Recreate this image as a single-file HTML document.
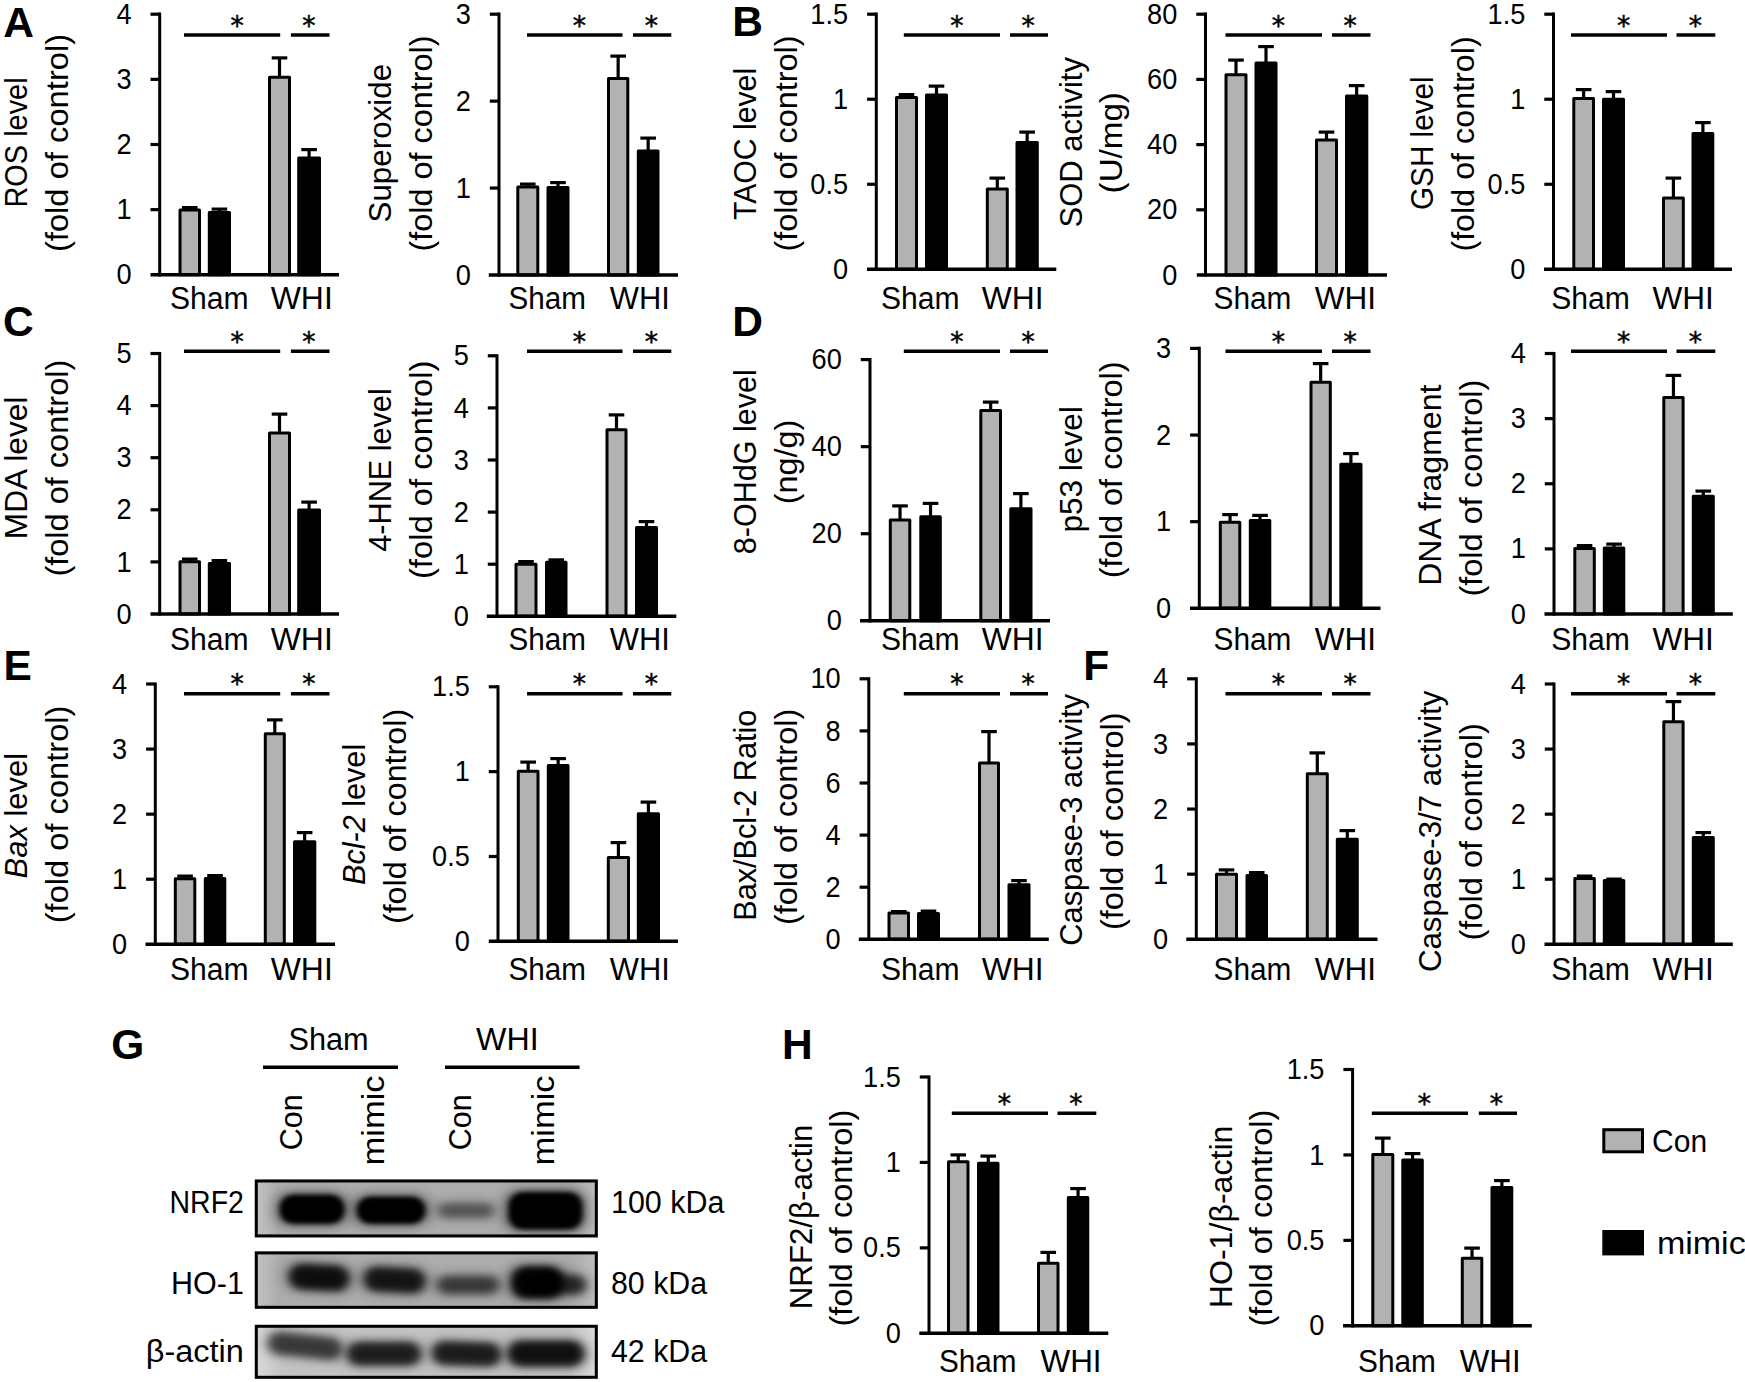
<!DOCTYPE html>
<html lang="en"><head><meta charset="utf-8"><title>Figure</title>
<style>
html,body{margin:0;padding:0;background:#fff;}
svg{display:block;}
svg text{font-family:"Liberation Sans",sans-serif;fill:#000;}
svg line{stroke:#000;stroke-linecap:butt;}
</style></head><body>
<svg width="1745" height="1382" viewBox="0 0 1745 1382">
<rect x="0" y="0" width="1745" height="1382" fill="#fff"/>
<line x1="189.75" y1="207.6" x2="189.75" y2="210.5" stroke-width="3.2"/>
<line x1="181.95" y1="207.6" x2="197.55" y2="207.6" stroke-width="3.2"/>
<rect x="180" y="210" width="19.5" height="64.8" fill="#b2b2b2" stroke="#000" stroke-width="3" stroke-linejoin="round"/>
<line x1="219.4" y1="209.1" x2="219.4" y2="213" stroke-width="3.2"/>
<line x1="211.6" y1="209.1" x2="227.2" y2="209.1" stroke-width="3.2"/>
<rect x="209.3" y="212.5" width="20.2" height="62.3" fill="#000" stroke="#000" stroke-width="3" stroke-linejoin="round"/>
<line x1="279.5" y1="57.9" x2="279.5" y2="77.8" stroke-width="3.2"/>
<line x1="271.7" y1="57.9" x2="287.3" y2="57.9" stroke-width="3.2"/>
<rect x="269.5" y="77.3" width="20" height="197.5" fill="#b2b2b2" stroke="#000" stroke-width="3" stroke-linejoin="round"/>
<line x1="309.1" y1="149.6" x2="309.1" y2="158.5" stroke-width="3.2"/>
<line x1="301.3" y1="149.6" x2="316.9" y2="149.6" stroke-width="3.2"/>
<rect x="298.7" y="158" width="20.8" height="116.8" fill="#000" stroke="#000" stroke-width="3" stroke-linejoin="round"/>
<line x1="159.7" y1="12.6" x2="159.7" y2="276.4" stroke-width="3"/>
<line x1="150.5" y1="274.8" x2="339" y2="274.8" stroke-width="3.4"/>
<text x="131.5" y="284.4" font-size="29" text-anchor="end" textLength="15.11" lengthAdjust="spacingAndGlyphs">0</text>
<line x1="150.5" y1="209.65" x2="159.7" y2="209.65" stroke-width="3.2"/>
<text x="131.5" y="219.25" font-size="29" text-anchor="end" textLength="15.11" lengthAdjust="spacingAndGlyphs">1</text>
<line x1="150.5" y1="144.5" x2="159.7" y2="144.5" stroke-width="3.2"/>
<text x="131.5" y="154.1" font-size="29" text-anchor="end" textLength="15.11" lengthAdjust="spacingAndGlyphs">2</text>
<line x1="150.5" y1="79.35" x2="159.7" y2="79.35" stroke-width="3.2"/>
<text x="131.5" y="88.95" font-size="29" text-anchor="end" textLength="15.11" lengthAdjust="spacingAndGlyphs">3</text>
<line x1="150.5" y1="14.2" x2="159.7" y2="14.2" stroke-width="3.2"/>
<text x="131.5" y="23.8" font-size="29" text-anchor="end" textLength="15.11" lengthAdjust="spacingAndGlyphs">4</text>
<line x1="184" y1="35" x2="280.2" y2="35" stroke-width="3.4"/>
<line x1="290.9" y1="35" x2="329.5" y2="35" stroke-width="3.4"/>
<text x="237.2" y="34.8" font-size="26.5" text-anchor="middle" stroke="#000" stroke-width="0.5" style="font-family:'DejaVu Sans','Liberation Sans',sans-serif">*</text>
<text x="308.8" y="34.8" font-size="26.5" text-anchor="middle" stroke="#000" stroke-width="0.5" style="font-family:'DejaVu Sans','Liberation Sans',sans-serif">*</text>
<text x="170" y="309.3" font-size="31" textLength="78.7" lengthAdjust="spacingAndGlyphs">Sham</text>
<text x="270.7" y="309.3" font-size="31" textLength="62.1" lengthAdjust="spacingAndGlyphs">WHI</text>
<text transform="translate(26.6 207.5) rotate(-90)" font-size="31" textLength="130.1" lengthAdjust="spacingAndGlyphs">ROS level</text>
<text transform="translate(67.9 252.1) rotate(-90)" font-size="31" textLength="218.3" lengthAdjust="spacingAndGlyphs">(fold of control)</text>
<line x1="527.8" y1="184.1" x2="527.8" y2="187.5" stroke-width="3.2"/>
<line x1="520" y1="184.1" x2="535.6" y2="184.1" stroke-width="3.2"/>
<rect x="517.8" y="187" width="20" height="88" fill="#b2b2b2" stroke="#000" stroke-width="3" stroke-linejoin="round"/>
<line x1="558" y1="182.6" x2="558" y2="188" stroke-width="3.2"/>
<line x1="550.2" y1="182.6" x2="565.8" y2="182.6" stroke-width="3.2"/>
<rect x="548" y="187.5" width="20" height="87.5" fill="#000" stroke="#000" stroke-width="3" stroke-linejoin="round"/>
<line x1="618.15" y1="56.1" x2="618.15" y2="79" stroke-width="3.2"/>
<line x1="610.35" y1="56.1" x2="625.95" y2="56.1" stroke-width="3.2"/>
<rect x="608.5" y="78.5" width="19.3" height="196.5" fill="#b2b2b2" stroke="#000" stroke-width="3" stroke-linejoin="round"/>
<line x1="648.15" y1="138.1" x2="648.15" y2="151.5" stroke-width="3.2"/>
<line x1="640.35" y1="138.1" x2="655.95" y2="138.1" stroke-width="3.2"/>
<rect x="638.3" y="151" width="19.7" height="124" fill="#000" stroke="#000" stroke-width="3" stroke-linejoin="round"/>
<line x1="499" y1="12.6" x2="499" y2="276.6" stroke-width="3"/>
<line x1="488.8" y1="275" x2="678" y2="275" stroke-width="3.4"/>
<text x="470.8" y="284.6" font-size="29" text-anchor="end" textLength="15.11" lengthAdjust="spacingAndGlyphs">0</text>
<line x1="489.8" y1="188.07" x2="499" y2="188.07" stroke-width="3.2"/>
<text x="470.8" y="197.67" font-size="29" text-anchor="end" textLength="15.11" lengthAdjust="spacingAndGlyphs">1</text>
<line x1="489.8" y1="101.13" x2="499" y2="101.13" stroke-width="3.2"/>
<text x="470.8" y="110.73" font-size="29" text-anchor="end" textLength="15.11" lengthAdjust="spacingAndGlyphs">2</text>
<line x1="489.8" y1="14.2" x2="499" y2="14.2" stroke-width="3.2"/>
<text x="470.8" y="23.8" font-size="29" text-anchor="end" textLength="15.11" lengthAdjust="spacingAndGlyphs">3</text>
<line x1="527" y1="35" x2="622.5" y2="35" stroke-width="3.4"/>
<line x1="633" y1="35" x2="671.3" y2="35" stroke-width="3.4"/>
<text x="579.3" y="34.8" font-size="26.5" text-anchor="middle" stroke="#000" stroke-width="0.5" style="font-family:'DejaVu Sans','Liberation Sans',sans-serif">*</text>
<text x="651.3" y="34.8" font-size="26.5" text-anchor="middle" stroke="#000" stroke-width="0.5" style="font-family:'DejaVu Sans','Liberation Sans',sans-serif">*</text>
<text x="508.5" y="309.3" font-size="31" textLength="77.4" lengthAdjust="spacingAndGlyphs">Sham</text>
<text x="609.8" y="309.3" font-size="31" textLength="60.1" lengthAdjust="spacingAndGlyphs">WHI</text>
<text transform="translate(391.3 222.5) rotate(-90)" font-size="31" textLength="158.7" lengthAdjust="spacingAndGlyphs">Superoxide</text>
<text transform="translate(432 251.6) rotate(-90)" font-size="31" textLength="216.1" lengthAdjust="spacingAndGlyphs">(fold of control)</text>
<line x1="906.5" y1="94.6" x2="906.5" y2="98" stroke-width="3.2"/>
<line x1="898.7" y1="94.6" x2="914.3" y2="94.6" stroke-width="3.2"/>
<rect x="896.5" y="97.5" width="20" height="171.8" fill="#b2b2b2" stroke="#000" stroke-width="3" stroke-linejoin="round"/>
<line x1="936.5" y1="86.1" x2="936.5" y2="95.5" stroke-width="3.2"/>
<line x1="928.7" y1="86.1" x2="944.3" y2="86.1" stroke-width="3.2"/>
<rect x="926.5" y="95" width="20" height="174.3" fill="#000" stroke="#000" stroke-width="3" stroke-linejoin="round"/>
<line x1="997.3" y1="178.1" x2="997.3" y2="189.5" stroke-width="3.2"/>
<line x1="989.5" y1="178.1" x2="1005.1" y2="178.1" stroke-width="3.2"/>
<rect x="987.3" y="189" width="20" height="80.3" fill="#b2b2b2" stroke="#000" stroke-width="3" stroke-linejoin="round"/>
<line x1="1027.15" y1="132.1" x2="1027.15" y2="143" stroke-width="3.2"/>
<line x1="1019.35" y1="132.1" x2="1034.95" y2="132.1" stroke-width="3.2"/>
<rect x="1017" y="142.5" width="20.3" height="126.8" fill="#000" stroke="#000" stroke-width="3" stroke-linejoin="round"/>
<line x1="876.3" y1="12.6" x2="876.3" y2="270.9" stroke-width="3"/>
<line x1="867" y1="269.3" x2="1056.3" y2="269.3" stroke-width="3.4"/>
<text x="848.1" y="278.9" font-size="29" text-anchor="end" textLength="15.11" lengthAdjust="spacingAndGlyphs">0</text>
<line x1="867.1" y1="184.27" x2="876.3" y2="184.27" stroke-width="3.2"/>
<text x="848.1" y="193.87" font-size="29" text-anchor="end" textLength="37.73" lengthAdjust="spacingAndGlyphs">0.5</text>
<line x1="867.1" y1="99.23" x2="876.3" y2="99.23" stroke-width="3.2"/>
<text x="848.1" y="108.83" font-size="29" text-anchor="end" textLength="15.11" lengthAdjust="spacingAndGlyphs">1</text>
<line x1="867.1" y1="14.2" x2="876.3" y2="14.2" stroke-width="3.2"/>
<text x="848.1" y="23.8" font-size="29" text-anchor="end" textLength="37.73" lengthAdjust="spacingAndGlyphs">1.5</text>
<line x1="903.8" y1="35" x2="1000" y2="35" stroke-width="3.4"/>
<line x1="1010" y1="35" x2="1048" y2="35" stroke-width="3.4"/>
<text x="956.8" y="34.8" font-size="26.5" text-anchor="middle" stroke="#000" stroke-width="0.5" style="font-family:'DejaVu Sans','Liberation Sans',sans-serif">*</text>
<text x="1028" y="34.8" font-size="26.5" text-anchor="middle" stroke="#000" stroke-width="0.5" style="font-family:'DejaVu Sans','Liberation Sans',sans-serif">*</text>
<text x="881" y="309.3" font-size="31" textLength="78.6" lengthAdjust="spacingAndGlyphs">Sham</text>
<text x="981.8" y="309.3" font-size="31" textLength="61.8" lengthAdjust="spacingAndGlyphs">WHI</text>
<text transform="translate(755.8 220) rotate(-90)" font-size="31" textLength="152.1" lengthAdjust="spacingAndGlyphs">TAOC level</text>
<text transform="translate(796.9 251.6) rotate(-90)" font-size="31" textLength="216.1" lengthAdjust="spacingAndGlyphs">(fold of control)</text>
<line x1="1236" y1="60.1" x2="1236" y2="75.3" stroke-width="3.2"/>
<line x1="1228.2" y1="60.1" x2="1243.8" y2="60.1" stroke-width="3.2"/>
<rect x="1226" y="74.8" width="20" height="200.2" fill="#b2b2b2" stroke="#000" stroke-width="3" stroke-linejoin="round"/>
<line x1="1266" y1="46.6" x2="1266" y2="63.5" stroke-width="3.2"/>
<line x1="1258.2" y1="46.6" x2="1273.8" y2="46.6" stroke-width="3.2"/>
<rect x="1256" y="63" width="20" height="212" fill="#000" stroke="#000" stroke-width="3" stroke-linejoin="round"/>
<line x1="1326.5" y1="132.1" x2="1326.5" y2="140.5" stroke-width="3.2"/>
<line x1="1318.7" y1="132.1" x2="1334.3" y2="132.1" stroke-width="3.2"/>
<rect x="1316.5" y="140" width="20" height="135" fill="#b2b2b2" stroke="#000" stroke-width="3" stroke-linejoin="round"/>
<line x1="1356.65" y1="85.6" x2="1356.65" y2="96.5" stroke-width="3.2"/>
<line x1="1348.85" y1="85.6" x2="1364.45" y2="85.6" stroke-width="3.2"/>
<rect x="1346.5" y="96" width="20.3" height="179" fill="#000" stroke="#000" stroke-width="3" stroke-linejoin="round"/>
<line x1="1205.5" y1="12.6" x2="1205.5" y2="276.6" stroke-width="3"/>
<line x1="1196.8" y1="275" x2="1387" y2="275" stroke-width="3.4"/>
<text x="1177.3" y="284.6" font-size="29" text-anchor="end" textLength="15.11" lengthAdjust="spacingAndGlyphs">0</text>
<line x1="1196.3" y1="209.8" x2="1205.5" y2="209.8" stroke-width="3.2"/>
<text x="1177.3" y="219.4" font-size="29" text-anchor="end" textLength="30.22" lengthAdjust="spacingAndGlyphs">20</text>
<line x1="1196.3" y1="144.6" x2="1205.5" y2="144.6" stroke-width="3.2"/>
<text x="1177.3" y="154.2" font-size="29" text-anchor="end" textLength="30.22" lengthAdjust="spacingAndGlyphs">40</text>
<line x1="1196.3" y1="79.4" x2="1205.5" y2="79.4" stroke-width="3.2"/>
<text x="1177.3" y="89" font-size="29" text-anchor="end" textLength="30.22" lengthAdjust="spacingAndGlyphs">60</text>
<line x1="1196.3" y1="14.2" x2="1205.5" y2="14.2" stroke-width="3.2"/>
<text x="1177.3" y="23.8" font-size="29" text-anchor="end" textLength="30.22" lengthAdjust="spacingAndGlyphs">80</text>
<line x1="1225.5" y1="35" x2="1322" y2="35" stroke-width="3.4"/>
<line x1="1332" y1="35" x2="1370.5" y2="35" stroke-width="3.4"/>
<text x="1278.3" y="34.8" font-size="26.5" text-anchor="middle" stroke="#000" stroke-width="0.5" style="font-family:'DejaVu Sans','Liberation Sans',sans-serif">*</text>
<text x="1350" y="34.8" font-size="26.5" text-anchor="middle" stroke="#000" stroke-width="0.5" style="font-family:'DejaVu Sans','Liberation Sans',sans-serif">*</text>
<text x="1213.5" y="309.3" font-size="31" textLength="77.9" lengthAdjust="spacingAndGlyphs">Sham</text>
<text x="1314.8" y="309.3" font-size="31" textLength="61.3" lengthAdjust="spacingAndGlyphs">WHI</text>
<text transform="translate(1081.6 227.5) rotate(-90)" font-size="31" textLength="170.4" lengthAdjust="spacingAndGlyphs">SOD activity</text>
<text transform="translate(1121.9 193.4) rotate(-90)" font-size="31" textLength="101.3" lengthAdjust="spacingAndGlyphs">(U/mg)</text>
<line x1="1583.65" y1="89.6" x2="1583.65" y2="99" stroke-width="3.2"/>
<line x1="1575.85" y1="89.6" x2="1591.45" y2="89.6" stroke-width="3.2"/>
<rect x="1573.8" y="98.5" width="19.7" height="170.8" fill="#b2b2b2" stroke="#000" stroke-width="3" stroke-linejoin="round"/>
<line x1="1613.5" y1="91.6" x2="1613.5" y2="99.8" stroke-width="3.2"/>
<line x1="1605.7" y1="91.6" x2="1621.3" y2="91.6" stroke-width="3.2"/>
<rect x="1603.5" y="99.3" width="20" height="170" fill="#000" stroke="#000" stroke-width="3" stroke-linejoin="round"/>
<line x1="1673.4" y1="178.1" x2="1673.4" y2="198.5" stroke-width="3.2"/>
<line x1="1665.6" y1="178.1" x2="1681.2" y2="178.1" stroke-width="3.2"/>
<rect x="1663.5" y="198" width="19.8" height="71.3" fill="#b2b2b2" stroke="#000" stroke-width="3" stroke-linejoin="round"/>
<line x1="1702.9" y1="122.6" x2="1702.9" y2="134" stroke-width="3.2"/>
<line x1="1695.1" y1="122.6" x2="1710.7" y2="122.6" stroke-width="3.2"/>
<rect x="1693" y="133.5" width="19.8" height="135.8" fill="#000" stroke="#000" stroke-width="3" stroke-linejoin="round"/>
<line x1="1553.5" y1="12.6" x2="1553.5" y2="270.9" stroke-width="3"/>
<line x1="1544" y1="269.3" x2="1732" y2="269.3" stroke-width="3.4"/>
<text x="1525.3" y="278.9" font-size="29" text-anchor="end" textLength="15.11" lengthAdjust="spacingAndGlyphs">0</text>
<line x1="1544.3" y1="184.27" x2="1553.5" y2="184.27" stroke-width="3.2"/>
<text x="1525.3" y="193.87" font-size="29" text-anchor="end" textLength="37.73" lengthAdjust="spacingAndGlyphs">0.5</text>
<line x1="1544.3" y1="99.23" x2="1553.5" y2="99.23" stroke-width="3.2"/>
<text x="1525.3" y="108.83" font-size="29" text-anchor="end" textLength="15.11" lengthAdjust="spacingAndGlyphs">1</text>
<line x1="1544.3" y1="14.2" x2="1553.5" y2="14.2" stroke-width="3.2"/>
<text x="1525.3" y="23.8" font-size="29" text-anchor="end" textLength="37.73" lengthAdjust="spacingAndGlyphs">1.5</text>
<line x1="1571" y1="35" x2="1667" y2="35" stroke-width="3.4"/>
<line x1="1676.5" y1="35" x2="1715.3" y2="35" stroke-width="3.4"/>
<text x="1623.5" y="34.8" font-size="26.5" text-anchor="middle" stroke="#000" stroke-width="0.5" style="font-family:'DejaVu Sans','Liberation Sans',sans-serif">*</text>
<text x="1695.3" y="34.8" font-size="26.5" text-anchor="middle" stroke="#000" stroke-width="0.5" style="font-family:'DejaVu Sans','Liberation Sans',sans-serif">*</text>
<text x="1551.3" y="309.3" font-size="31" textLength="78.6" lengthAdjust="spacingAndGlyphs">Sham</text>
<text x="1652.5" y="309.3" font-size="31" textLength="61.4" lengthAdjust="spacingAndGlyphs">WHI</text>
<text transform="translate(1433.3 210) rotate(-90)" font-size="31" textLength="133.7" lengthAdjust="spacingAndGlyphs">GSH level</text>
<text transform="translate(1474 251.6) rotate(-90)" font-size="31" textLength="215.3" lengthAdjust="spacingAndGlyphs">(fold of control)</text>
<line x1="189.75" y1="559.1" x2="189.75" y2="562.3" stroke-width="3.2"/>
<line x1="181.95" y1="559.1" x2="197.55" y2="559.1" stroke-width="3.2"/>
<rect x="180" y="561.8" width="19.5" height="52.2" fill="#b2b2b2" stroke="#000" stroke-width="3" stroke-linejoin="round"/>
<line x1="219.4" y1="560.6" x2="219.4" y2="564" stroke-width="3.2"/>
<line x1="211.6" y1="560.6" x2="227.2" y2="560.6" stroke-width="3.2"/>
<rect x="209.3" y="563.5" width="20.2" height="50.5" fill="#000" stroke="#000" stroke-width="3" stroke-linejoin="round"/>
<line x1="279.5" y1="414.1" x2="279.5" y2="433.5" stroke-width="3.2"/>
<line x1="271.7" y1="414.1" x2="287.3" y2="414.1" stroke-width="3.2"/>
<rect x="269.5" y="433" width="20" height="181" fill="#b2b2b2" stroke="#000" stroke-width="3" stroke-linejoin="round"/>
<line x1="309.1" y1="502.1" x2="309.1" y2="510.5" stroke-width="3.2"/>
<line x1="301.3" y1="502.1" x2="316.9" y2="502.1" stroke-width="3.2"/>
<rect x="298.7" y="510" width="20.8" height="104" fill="#000" stroke="#000" stroke-width="3" stroke-linejoin="round"/>
<line x1="159.7" y1="351.9" x2="159.7" y2="615.6" stroke-width="3"/>
<line x1="150.5" y1="614" x2="339" y2="614" stroke-width="3.4"/>
<text x="131.5" y="623.6" font-size="29" text-anchor="end" textLength="15.11" lengthAdjust="spacingAndGlyphs">0</text>
<line x1="150.5" y1="561.9" x2="159.7" y2="561.9" stroke-width="3.2"/>
<text x="131.5" y="571.5" font-size="29" text-anchor="end" textLength="15.11" lengthAdjust="spacingAndGlyphs">1</text>
<line x1="150.5" y1="509.8" x2="159.7" y2="509.8" stroke-width="3.2"/>
<text x="131.5" y="519.4" font-size="29" text-anchor="end" textLength="15.11" lengthAdjust="spacingAndGlyphs">2</text>
<line x1="150.5" y1="457.7" x2="159.7" y2="457.7" stroke-width="3.2"/>
<text x="131.5" y="467.3" font-size="29" text-anchor="end" textLength="15.11" lengthAdjust="spacingAndGlyphs">3</text>
<line x1="150.5" y1="405.6" x2="159.7" y2="405.6" stroke-width="3.2"/>
<text x="131.5" y="415.2" font-size="29" text-anchor="end" textLength="15.11" lengthAdjust="spacingAndGlyphs">4</text>
<line x1="150.5" y1="353.5" x2="159.7" y2="353.5" stroke-width="3.2"/>
<text x="131.5" y="363.1" font-size="29" text-anchor="end" textLength="15.11" lengthAdjust="spacingAndGlyphs">5</text>
<line x1="184" y1="351.2" x2="280.2" y2="351.2" stroke-width="3.4"/>
<line x1="290.9" y1="351.2" x2="329.5" y2="351.2" stroke-width="3.4"/>
<text x="237.2" y="350.8" font-size="26.5" text-anchor="middle" stroke="#000" stroke-width="0.5" style="font-family:'DejaVu Sans','Liberation Sans',sans-serif">*</text>
<text x="308.8" y="350.8" font-size="26.5" text-anchor="middle" stroke="#000" stroke-width="0.5" style="font-family:'DejaVu Sans','Liberation Sans',sans-serif">*</text>
<text x="170" y="650" font-size="31" textLength="78.7" lengthAdjust="spacingAndGlyphs">Sham</text>
<text x="270.7" y="650" font-size="31" textLength="62.1" lengthAdjust="spacingAndGlyphs">WHI</text>
<text transform="translate(26.6 539.2) rotate(-90)" font-size="31" textLength="142.6" lengthAdjust="spacingAndGlyphs">MDA level</text>
<text transform="translate(67.9 576.6) rotate(-90)" font-size="31" textLength="216.9" lengthAdjust="spacingAndGlyphs">(fold of control)</text>
<line x1="526" y1="561.6" x2="526" y2="564.8" stroke-width="3.2"/>
<line x1="518.2" y1="561.6" x2="533.8" y2="561.6" stroke-width="3.2"/>
<rect x="516" y="564.3" width="20" height="52" fill="#b2b2b2" stroke="#000" stroke-width="3" stroke-linejoin="round"/>
<line x1="556.25" y1="559.9" x2="556.25" y2="562.8" stroke-width="3.2"/>
<line x1="548.45" y1="559.9" x2="564.05" y2="559.9" stroke-width="3.2"/>
<rect x="546.5" y="562.3" width="19.5" height="54" fill="#000" stroke="#000" stroke-width="3" stroke-linejoin="round"/>
<line x1="616.5" y1="414.9" x2="616.5" y2="430.3" stroke-width="3.2"/>
<line x1="608.7" y1="414.9" x2="624.3" y2="414.9" stroke-width="3.2"/>
<rect x="607" y="429.8" width="19" height="186.5" fill="#b2b2b2" stroke="#000" stroke-width="3" stroke-linejoin="round"/>
<line x1="646.5" y1="521.6" x2="646.5" y2="528" stroke-width="3.2"/>
<line x1="638.7" y1="521.6" x2="654.3" y2="521.6" stroke-width="3.2"/>
<rect x="636.5" y="527.5" width="20" height="88.8" fill="#000" stroke="#000" stroke-width="3" stroke-linejoin="round"/>
<line x1="497" y1="354.2" x2="497" y2="617.9" stroke-width="3"/>
<line x1="486.8" y1="616.3" x2="676.3" y2="616.3" stroke-width="3.4"/>
<text x="468.8" y="625.9" font-size="29" text-anchor="end" textLength="15.11" lengthAdjust="spacingAndGlyphs">0</text>
<line x1="487.8" y1="564.2" x2="497" y2="564.2" stroke-width="3.2"/>
<text x="468.8" y="573.8" font-size="29" text-anchor="end" textLength="15.11" lengthAdjust="spacingAndGlyphs">1</text>
<line x1="487.8" y1="512.1" x2="497" y2="512.1" stroke-width="3.2"/>
<text x="468.8" y="521.7" font-size="29" text-anchor="end" textLength="15.11" lengthAdjust="spacingAndGlyphs">2</text>
<line x1="487.8" y1="460" x2="497" y2="460" stroke-width="3.2"/>
<text x="468.8" y="469.6" font-size="29" text-anchor="end" textLength="15.11" lengthAdjust="spacingAndGlyphs">3</text>
<line x1="487.8" y1="407.9" x2="497" y2="407.9" stroke-width="3.2"/>
<text x="468.8" y="417.5" font-size="29" text-anchor="end" textLength="15.11" lengthAdjust="spacingAndGlyphs">4</text>
<line x1="487.8" y1="355.8" x2="497" y2="355.8" stroke-width="3.2"/>
<text x="468.8" y="365.4" font-size="29" text-anchor="end" textLength="15.11" lengthAdjust="spacingAndGlyphs">5</text>
<line x1="527" y1="351.2" x2="622.5" y2="351.2" stroke-width="3.4"/>
<line x1="633" y1="351.2" x2="671.3" y2="351.2" stroke-width="3.4"/>
<text x="579.3" y="350.8" font-size="26.5" text-anchor="middle" stroke="#000" stroke-width="0.5" style="font-family:'DejaVu Sans','Liberation Sans',sans-serif">*</text>
<text x="651.3" y="350.8" font-size="26.5" text-anchor="middle" stroke="#000" stroke-width="0.5" style="font-family:'DejaVu Sans','Liberation Sans',sans-serif">*</text>
<text x="508.5" y="650" font-size="31" textLength="77.4" lengthAdjust="spacingAndGlyphs">Sham</text>
<text x="609.8" y="650" font-size="31" textLength="60.1" lengthAdjust="spacingAndGlyphs">WHI</text>
<text transform="translate(391.3 551.7) rotate(-90)" font-size="31" textLength="163.4" lengthAdjust="spacingAndGlyphs">4-HNE level</text>
<text transform="translate(431.9 579.1) rotate(-90)" font-size="31" textLength="218.6" lengthAdjust="spacingAndGlyphs">(fold of control)</text>
<line x1="900.05" y1="505.9" x2="900.05" y2="520.5" stroke-width="3.2"/>
<line x1="892.25" y1="505.9" x2="907.85" y2="505.9" stroke-width="3.2"/>
<rect x="890.3" y="520" width="19.5" height="100.8" fill="#b2b2b2" stroke="#000" stroke-width="3" stroke-linejoin="round"/>
<line x1="930.55" y1="503.4" x2="930.55" y2="517.3" stroke-width="3.2"/>
<line x1="922.75" y1="503.4" x2="938.35" y2="503.4" stroke-width="3.2"/>
<rect x="920.8" y="516.8" width="19.5" height="104" fill="#000" stroke="#000" stroke-width="3" stroke-linejoin="round"/>
<line x1="990.65" y1="402.1" x2="990.65" y2="411" stroke-width="3.2"/>
<line x1="982.85" y1="402.1" x2="998.45" y2="402.1" stroke-width="3.2"/>
<rect x="980.8" y="410.5" width="19.7" height="210.3" fill="#b2b2b2" stroke="#000" stroke-width="3" stroke-linejoin="round"/>
<line x1="1020.9" y1="493.6" x2="1020.9" y2="509.3" stroke-width="3.2"/>
<line x1="1013.1" y1="493.6" x2="1028.7" y2="493.6" stroke-width="3.2"/>
<rect x="1010.8" y="508.8" width="20.2" height="112" fill="#000" stroke="#000" stroke-width="3" stroke-linejoin="round"/>
<line x1="870" y1="358" x2="870" y2="622.4" stroke-width="3"/>
<line x1="860" y1="620.8" x2="1050" y2="620.8" stroke-width="3.4"/>
<text x="841.8" y="630.4" font-size="29" text-anchor="end" textLength="15.11" lengthAdjust="spacingAndGlyphs">0</text>
<line x1="860.8" y1="533.73" x2="870" y2="533.73" stroke-width="3.2"/>
<text x="841.8" y="543.33" font-size="29" text-anchor="end" textLength="30.22" lengthAdjust="spacingAndGlyphs">20</text>
<line x1="860.8" y1="446.67" x2="870" y2="446.67" stroke-width="3.2"/>
<text x="841.8" y="456.27" font-size="29" text-anchor="end" textLength="30.22" lengthAdjust="spacingAndGlyphs">40</text>
<line x1="860.8" y1="359.6" x2="870" y2="359.6" stroke-width="3.2"/>
<text x="841.8" y="369.2" font-size="29" text-anchor="end" textLength="30.22" lengthAdjust="spacingAndGlyphs">60</text>
<line x1="903.8" y1="351.2" x2="1000" y2="351.2" stroke-width="3.4"/>
<line x1="1010" y1="351.2" x2="1048" y2="351.2" stroke-width="3.4"/>
<text x="956.8" y="350.8" font-size="26.5" text-anchor="middle" stroke="#000" stroke-width="0.5" style="font-family:'DejaVu Sans','Liberation Sans',sans-serif">*</text>
<text x="1028" y="350.8" font-size="26.5" text-anchor="middle" stroke="#000" stroke-width="0.5" style="font-family:'DejaVu Sans','Liberation Sans',sans-serif">*</text>
<text x="881" y="650" font-size="31" textLength="78.6" lengthAdjust="spacingAndGlyphs">Sham</text>
<text x="981.8" y="650" font-size="31" textLength="61.8" lengthAdjust="spacingAndGlyphs">WHI</text>
<text transform="translate(756.3 554.2) rotate(-90)" font-size="31" textLength="184.9" lengthAdjust="spacingAndGlyphs">8-OHdG level</text>
<text transform="translate(796.9 504.2) rotate(-90)" font-size="31" textLength="84.6" lengthAdjust="spacingAndGlyphs">(ng/g)</text>
<line x1="1230.05" y1="514.6" x2="1230.05" y2="522.8" stroke-width="3.2"/>
<line x1="1222.25" y1="514.6" x2="1237.85" y2="514.6" stroke-width="3.2"/>
<rect x="1220.3" y="522.3" width="19.5" height="86" fill="#b2b2b2" stroke="#000" stroke-width="3" stroke-linejoin="round"/>
<line x1="1260.05" y1="515.4" x2="1260.05" y2="521" stroke-width="3.2"/>
<line x1="1252.25" y1="515.4" x2="1267.85" y2="515.4" stroke-width="3.2"/>
<rect x="1250.3" y="520.5" width="19.5" height="87.8" fill="#000" stroke="#000" stroke-width="3" stroke-linejoin="round"/>
<line x1="1320.65" y1="363.6" x2="1320.65" y2="382.8" stroke-width="3.2"/>
<line x1="1312.85" y1="363.6" x2="1328.45" y2="363.6" stroke-width="3.2"/>
<rect x="1311" y="382.3" width="19.3" height="226" fill="#b2b2b2" stroke="#000" stroke-width="3" stroke-linejoin="round"/>
<line x1="1350.9" y1="453.6" x2="1350.9" y2="464.8" stroke-width="3.2"/>
<line x1="1343.1" y1="453.6" x2="1358.7" y2="453.6" stroke-width="3.2"/>
<rect x="1340.8" y="464.3" width="20.2" height="144" fill="#000" stroke="#000" stroke-width="3" stroke-linejoin="round"/>
<line x1="1199.3" y1="346.8" x2="1199.3" y2="609.9" stroke-width="3"/>
<line x1="1190" y1="608.3" x2="1380.5" y2="608.3" stroke-width="3.4"/>
<text x="1171.1" y="617.9" font-size="29" text-anchor="end" textLength="15.11" lengthAdjust="spacingAndGlyphs">0</text>
<line x1="1190.1" y1="521.67" x2="1199.3" y2="521.67" stroke-width="3.2"/>
<text x="1171.1" y="531.27" font-size="29" text-anchor="end" textLength="15.11" lengthAdjust="spacingAndGlyphs">1</text>
<line x1="1190.1" y1="435.03" x2="1199.3" y2="435.03" stroke-width="3.2"/>
<text x="1171.1" y="444.63" font-size="29" text-anchor="end" textLength="15.11" lengthAdjust="spacingAndGlyphs">2</text>
<line x1="1190.1" y1="348.4" x2="1199.3" y2="348.4" stroke-width="3.2"/>
<text x="1171.1" y="358" font-size="29" text-anchor="end" textLength="15.11" lengthAdjust="spacingAndGlyphs">3</text>
<line x1="1225.5" y1="351.2" x2="1322" y2="351.2" stroke-width="3.4"/>
<line x1="1332" y1="351.2" x2="1370.5" y2="351.2" stroke-width="3.4"/>
<text x="1278.3" y="350.8" font-size="26.5" text-anchor="middle" stroke="#000" stroke-width="0.5" style="font-family:'DejaVu Sans','Liberation Sans',sans-serif">*</text>
<text x="1350" y="350.8" font-size="26.5" text-anchor="middle" stroke="#000" stroke-width="0.5" style="font-family:'DejaVu Sans','Liberation Sans',sans-serif">*</text>
<text x="1213.5" y="650" font-size="31" textLength="77.9" lengthAdjust="spacingAndGlyphs">Sham</text>
<text x="1314.8" y="650" font-size="31" textLength="61.3" lengthAdjust="spacingAndGlyphs">WHI</text>
<text transform="translate(1081.6 532.5) rotate(-90)" font-size="31" textLength="126.2" lengthAdjust="spacingAndGlyphs">p53 level</text>
<text transform="translate(1122.4 578.3) rotate(-90)" font-size="31" textLength="217" lengthAdjust="spacingAndGlyphs">(fold of control)</text>
<line x1="1584.55" y1="545.6" x2="1584.55" y2="549" stroke-width="3.2"/>
<line x1="1576.75" y1="545.6" x2="1592.35" y2="545.6" stroke-width="3.2"/>
<rect x="1574.8" y="548.5" width="19.5" height="65.5" fill="#b2b2b2" stroke="#000" stroke-width="3" stroke-linejoin="round"/>
<line x1="1614.05" y1="544.1" x2="1614.05" y2="548.5" stroke-width="3.2"/>
<line x1="1606.25" y1="544.1" x2="1621.85" y2="544.1" stroke-width="3.2"/>
<rect x="1604.3" y="548" width="19.5" height="66" fill="#000" stroke="#000" stroke-width="3" stroke-linejoin="round"/>
<line x1="1673.45" y1="375.4" x2="1673.45" y2="398" stroke-width="3.2"/>
<line x1="1665.65" y1="375.4" x2="1681.25" y2="375.4" stroke-width="3.2"/>
<rect x="1663.8" y="397.5" width="19.3" height="216.5" fill="#b2b2b2" stroke="#000" stroke-width="3" stroke-linejoin="round"/>
<line x1="1703.3" y1="491.1" x2="1703.3" y2="496.8" stroke-width="3.2"/>
<line x1="1695.5" y1="491.1" x2="1711.1" y2="491.1" stroke-width="3.2"/>
<rect x="1693.3" y="496.3" width="20" height="117.7" fill="#000" stroke="#000" stroke-width="3" stroke-linejoin="round"/>
<line x1="1554" y1="351.9" x2="1554" y2="615.6" stroke-width="3"/>
<line x1="1544.5" y1="614" x2="1732.8" y2="614" stroke-width="3.4"/>
<text x="1525.8" y="623.6" font-size="29" text-anchor="end" textLength="15.11" lengthAdjust="spacingAndGlyphs">0</text>
<line x1="1544.8" y1="548.88" x2="1554" y2="548.88" stroke-width="3.2"/>
<text x="1525.8" y="558.48" font-size="29" text-anchor="end" textLength="15.11" lengthAdjust="spacingAndGlyphs">1</text>
<line x1="1544.8" y1="483.75" x2="1554" y2="483.75" stroke-width="3.2"/>
<text x="1525.8" y="493.35" font-size="29" text-anchor="end" textLength="15.11" lengthAdjust="spacingAndGlyphs">2</text>
<line x1="1544.8" y1="418.62" x2="1554" y2="418.62" stroke-width="3.2"/>
<text x="1525.8" y="428.23" font-size="29" text-anchor="end" textLength="15.11" lengthAdjust="spacingAndGlyphs">3</text>
<line x1="1544.8" y1="353.5" x2="1554" y2="353.5" stroke-width="3.2"/>
<text x="1525.8" y="363.1" font-size="29" text-anchor="end" textLength="15.11" lengthAdjust="spacingAndGlyphs">4</text>
<line x1="1571" y1="351.2" x2="1667" y2="351.2" stroke-width="3.4"/>
<line x1="1676.5" y1="351.2" x2="1715.3" y2="351.2" stroke-width="3.4"/>
<text x="1623.5" y="350.8" font-size="26.5" text-anchor="middle" stroke="#000" stroke-width="0.5" style="font-family:'DejaVu Sans','Liberation Sans',sans-serif">*</text>
<text x="1695.3" y="350.8" font-size="26.5" text-anchor="middle" stroke="#000" stroke-width="0.5" style="font-family:'DejaVu Sans','Liberation Sans',sans-serif">*</text>
<text x="1551.3" y="650" font-size="31" textLength="78.6" lengthAdjust="spacingAndGlyphs">Sham</text>
<text x="1652.5" y="650" font-size="31" textLength="61.4" lengthAdjust="spacingAndGlyphs">WHI</text>
<text transform="translate(1441.3 585.8) rotate(-90)" font-size="31" textLength="201.2" lengthAdjust="spacingAndGlyphs">DNA fragment</text>
<text transform="translate(1481.9 596.6) rotate(-90)" font-size="31" textLength="217" lengthAdjust="spacingAndGlyphs">(fold of control)</text>
<line x1="185.05" y1="876.1" x2="185.05" y2="879.3" stroke-width="3.2"/>
<line x1="177.25" y1="876.1" x2="192.85" y2="876.1" stroke-width="3.2"/>
<rect x="175.3" y="878.8" width="19.5" height="65.5" fill="#b2b2b2" stroke="#000" stroke-width="3" stroke-linejoin="round"/>
<line x1="215.05" y1="875.6" x2="215.05" y2="879" stroke-width="3.2"/>
<line x1="207.25" y1="875.6" x2="222.85" y2="875.6" stroke-width="3.2"/>
<rect x="205.3" y="878.5" width="19.5" height="65.8" fill="#000" stroke="#000" stroke-width="3" stroke-linejoin="round"/>
<line x1="274.8" y1="719.9" x2="274.8" y2="734.3" stroke-width="3.2"/>
<line x1="267" y1="719.9" x2="282.6" y2="719.9" stroke-width="3.2"/>
<rect x="265.3" y="733.8" width="19" height="210.5" fill="#b2b2b2" stroke="#000" stroke-width="3" stroke-linejoin="round"/>
<line x1="304.65" y1="832.6" x2="304.65" y2="842.3" stroke-width="3.2"/>
<line x1="296.85" y1="832.6" x2="312.45" y2="832.6" stroke-width="3.2"/>
<rect x="294.5" y="841.8" width="20.3" height="102.5" fill="#000" stroke="#000" stroke-width="3" stroke-linejoin="round"/>
<line x1="155.3" y1="682.4" x2="155.3" y2="945.9" stroke-width="3"/>
<line x1="145.5" y1="944.3" x2="335" y2="944.3" stroke-width="3.4"/>
<text x="127.1" y="953.9" font-size="29" text-anchor="end" textLength="15.11" lengthAdjust="spacingAndGlyphs">0</text>
<line x1="146.1" y1="879.22" x2="155.3" y2="879.22" stroke-width="3.2"/>
<text x="127.1" y="888.82" font-size="29" text-anchor="end" textLength="15.11" lengthAdjust="spacingAndGlyphs">1</text>
<line x1="146.1" y1="814.15" x2="155.3" y2="814.15" stroke-width="3.2"/>
<text x="127.1" y="823.75" font-size="29" text-anchor="end" textLength="15.11" lengthAdjust="spacingAndGlyphs">2</text>
<line x1="146.1" y1="749.08" x2="155.3" y2="749.08" stroke-width="3.2"/>
<text x="127.1" y="758.68" font-size="29" text-anchor="end" textLength="15.11" lengthAdjust="spacingAndGlyphs">3</text>
<line x1="146.1" y1="684" x2="155.3" y2="684" stroke-width="3.2"/>
<text x="127.1" y="693.6" font-size="29" text-anchor="end" textLength="15.11" lengthAdjust="spacingAndGlyphs">4</text>
<line x1="184" y1="693.8" x2="280.2" y2="693.8" stroke-width="3.4"/>
<line x1="290.9" y1="693.8" x2="329.5" y2="693.8" stroke-width="3.4"/>
<text x="237.2" y="693.1" font-size="26.5" text-anchor="middle" stroke="#000" stroke-width="0.5" style="font-family:'DejaVu Sans','Liberation Sans',sans-serif">*</text>
<text x="308.8" y="693.1" font-size="26.5" text-anchor="middle" stroke="#000" stroke-width="0.5" style="font-family:'DejaVu Sans','Liberation Sans',sans-serif">*</text>
<text x="170" y="980.3" font-size="31" textLength="78.7" lengthAdjust="spacingAndGlyphs">Sham</text>
<text x="270.7" y="980.3" font-size="31" textLength="62.1" lengthAdjust="spacingAndGlyphs">WHI</text>
<text transform="translate(26.6 878.4) rotate(-90)" font-size="31" textLength="125.5" lengthAdjust="spacingAndGlyphs"><tspan font-style="italic">Bax</tspan> level</text>
<text transform="translate(67.9 923.3) rotate(-90)" font-size="31" textLength="217.8" lengthAdjust="spacingAndGlyphs">(fold of control)</text>
<line x1="528.15" y1="762.1" x2="528.15" y2="771.8" stroke-width="3.2"/>
<line x1="520.35" y1="762.1" x2="535.95" y2="762.1" stroke-width="3.2"/>
<rect x="518.3" y="771.3" width="19.7" height="170" fill="#b2b2b2" stroke="#000" stroke-width="3" stroke-linejoin="round"/>
<line x1="558.15" y1="758.6" x2="558.15" y2="766" stroke-width="3.2"/>
<line x1="550.35" y1="758.6" x2="565.95" y2="758.6" stroke-width="3.2"/>
<rect x="548.3" y="765.5" width="19.7" height="175.8" fill="#000" stroke="#000" stroke-width="3" stroke-linejoin="round"/>
<line x1="618.4" y1="842.6" x2="618.4" y2="858" stroke-width="3.2"/>
<line x1="610.6" y1="842.6" x2="626.2" y2="842.6" stroke-width="3.2"/>
<rect x="608.3" y="857.5" width="20.2" height="83.8" fill="#b2b2b2" stroke="#000" stroke-width="3" stroke-linejoin="round"/>
<line x1="648.4" y1="802.1" x2="648.4" y2="814.3" stroke-width="3.2"/>
<line x1="640.6" y1="802.1" x2="656.2" y2="802.1" stroke-width="3.2"/>
<rect x="638.3" y="813.8" width="20.2" height="127.5" fill="#000" stroke="#000" stroke-width="3" stroke-linejoin="round"/>
<line x1="498" y1="685.2" x2="498" y2="942.9" stroke-width="3"/>
<line x1="488.8" y1="941.3" x2="678" y2="941.3" stroke-width="3.4"/>
<text x="469.8" y="950.9" font-size="29" text-anchor="end" textLength="15.11" lengthAdjust="spacingAndGlyphs">0</text>
<line x1="488.8" y1="856.47" x2="498" y2="856.47" stroke-width="3.2"/>
<text x="469.8" y="866.07" font-size="29" text-anchor="end" textLength="37.73" lengthAdjust="spacingAndGlyphs">0.5</text>
<line x1="488.8" y1="771.63" x2="498" y2="771.63" stroke-width="3.2"/>
<text x="469.8" y="781.23" font-size="29" text-anchor="end" textLength="15.11" lengthAdjust="spacingAndGlyphs">1</text>
<line x1="488.8" y1="686.8" x2="498" y2="686.8" stroke-width="3.2"/>
<text x="469.8" y="696.4" font-size="29" text-anchor="end" textLength="37.73" lengthAdjust="spacingAndGlyphs">1.5</text>
<line x1="527" y1="693.8" x2="622.5" y2="693.8" stroke-width="3.4"/>
<line x1="633" y1="693.8" x2="671.3" y2="693.8" stroke-width="3.4"/>
<text x="579.3" y="693.1" font-size="26.5" text-anchor="middle" stroke="#000" stroke-width="0.5" style="font-family:'DejaVu Sans','Liberation Sans',sans-serif">*</text>
<text x="651.3" y="693.1" font-size="26.5" text-anchor="middle" stroke="#000" stroke-width="0.5" style="font-family:'DejaVu Sans','Liberation Sans',sans-serif">*</text>
<text x="508.5" y="980.3" font-size="31" textLength="77.4" lengthAdjust="spacingAndGlyphs">Sham</text>
<text x="609.8" y="980.3" font-size="31" textLength="60.1" lengthAdjust="spacingAndGlyphs">WHI</text>
<text transform="translate(365 885) rotate(-90)" font-size="31" textLength="141.2" lengthAdjust="spacingAndGlyphs"><tspan font-style="italic">Bcl-2</tspan> level</text>
<text transform="translate(406.2 924.1) rotate(-90)" font-size="31" textLength="215.3" lengthAdjust="spacingAndGlyphs">(fold of control)</text>
<line x1="898.75" y1="911.6" x2="898.75" y2="913.5" stroke-width="3.2"/>
<line x1="890.95" y1="911.6" x2="906.55" y2="911.6" stroke-width="3.2"/>
<rect x="889" y="913" width="19.5" height="26.3" fill="#b2b2b2" stroke="#000" stroke-width="3" stroke-linejoin="round"/>
<line x1="928.5" y1="911.1" x2="928.5" y2="914" stroke-width="3.2"/>
<line x1="920.7" y1="911.1" x2="936.3" y2="911.1" stroke-width="3.2"/>
<rect x="918.5" y="913.5" width="20" height="25.8" fill="#000" stroke="#000" stroke-width="3" stroke-linejoin="round"/>
<line x1="989" y1="731.6" x2="989" y2="763.5" stroke-width="3.2"/>
<line x1="981.2" y1="731.6" x2="996.8" y2="731.6" stroke-width="3.2"/>
<rect x="979.5" y="763" width="19" height="176.3" fill="#b2b2b2" stroke="#000" stroke-width="3" stroke-linejoin="round"/>
<line x1="1019" y1="880.6" x2="1019" y2="885.3" stroke-width="3.2"/>
<line x1="1011.2" y1="880.6" x2="1026.8" y2="880.6" stroke-width="3.2"/>
<rect x="1009" y="884.8" width="20" height="54.5" fill="#000" stroke="#000" stroke-width="3" stroke-linejoin="round"/>
<line x1="868.8" y1="677.2" x2="868.8" y2="940.9" stroke-width="3"/>
<line x1="858.8" y1="939.3" x2="1048.8" y2="939.3" stroke-width="3.4"/>
<text x="840.6" y="948.9" font-size="29" text-anchor="end" textLength="15.11" lengthAdjust="spacingAndGlyphs">0</text>
<line x1="859.6" y1="887.2" x2="868.8" y2="887.2" stroke-width="3.2"/>
<text x="840.6" y="896.8" font-size="29" text-anchor="end" textLength="15.11" lengthAdjust="spacingAndGlyphs">2</text>
<line x1="859.6" y1="835.1" x2="868.8" y2="835.1" stroke-width="3.2"/>
<text x="840.6" y="844.7" font-size="29" text-anchor="end" textLength="15.11" lengthAdjust="spacingAndGlyphs">4</text>
<line x1="859.6" y1="783" x2="868.8" y2="783" stroke-width="3.2"/>
<text x="840.6" y="792.6" font-size="29" text-anchor="end" textLength="15.11" lengthAdjust="spacingAndGlyphs">6</text>
<line x1="859.6" y1="730.9" x2="868.8" y2="730.9" stroke-width="3.2"/>
<text x="840.6" y="740.5" font-size="29" text-anchor="end" textLength="15.11" lengthAdjust="spacingAndGlyphs">8</text>
<line x1="859.6" y1="678.8" x2="868.8" y2="678.8" stroke-width="3.2"/>
<text x="840.6" y="688.4" font-size="29" text-anchor="end" textLength="30.22" lengthAdjust="spacingAndGlyphs">10</text>
<line x1="903.8" y1="693.8" x2="1000" y2="693.8" stroke-width="3.4"/>
<line x1="1010" y1="693.8" x2="1048" y2="693.8" stroke-width="3.4"/>
<text x="956.8" y="693.1" font-size="26.5" text-anchor="middle" stroke="#000" stroke-width="0.5" style="font-family:'DejaVu Sans','Liberation Sans',sans-serif">*</text>
<text x="1028" y="693.1" font-size="26.5" text-anchor="middle" stroke="#000" stroke-width="0.5" style="font-family:'DejaVu Sans','Liberation Sans',sans-serif">*</text>
<text x="881" y="980.3" font-size="31" textLength="78.6" lengthAdjust="spacingAndGlyphs">Sham</text>
<text x="981.8" y="980.3" font-size="31" textLength="61.8" lengthAdjust="spacingAndGlyphs">WHI</text>
<text transform="translate(755.8 920.8) rotate(-90)" font-size="31" textLength="211.2" lengthAdjust="spacingAndGlyphs">Bax/Bcl-2 Ratio</text>
<text transform="translate(796.6 925) rotate(-90)" font-size="31" textLength="216.2" lengthAdjust="spacingAndGlyphs">(fold of control)</text>
<line x1="1226.5" y1="869.9" x2="1226.5" y2="874.8" stroke-width="3.2"/>
<line x1="1218.7" y1="869.9" x2="1234.3" y2="869.9" stroke-width="3.2"/>
<rect x="1216.5" y="874.3" width="20" height="65" fill="#b2b2b2" stroke="#000" stroke-width="3" stroke-linejoin="round"/>
<line x1="1256.75" y1="872.6" x2="1256.75" y2="876" stroke-width="3.2"/>
<line x1="1248.95" y1="872.6" x2="1264.55" y2="872.6" stroke-width="3.2"/>
<rect x="1247" y="875.5" width="19.5" height="63.8" fill="#000" stroke="#000" stroke-width="3" stroke-linejoin="round"/>
<line x1="1317.3" y1="752.9" x2="1317.3" y2="774.3" stroke-width="3.2"/>
<line x1="1309.5" y1="752.9" x2="1325.1" y2="752.9" stroke-width="3.2"/>
<rect x="1307.3" y="773.8" width="20" height="165.5" fill="#b2b2b2" stroke="#000" stroke-width="3" stroke-linejoin="round"/>
<line x1="1347.3" y1="830.6" x2="1347.3" y2="839.8" stroke-width="3.2"/>
<line x1="1339.5" y1="830.6" x2="1355.1" y2="830.6" stroke-width="3.2"/>
<rect x="1337.3" y="839.3" width="20" height="100" fill="#000" stroke="#000" stroke-width="3" stroke-linejoin="round"/>
<line x1="1196.3" y1="677.2" x2="1196.3" y2="940.9" stroke-width="3"/>
<line x1="1186.3" y1="939.3" x2="1377.5" y2="939.3" stroke-width="3.4"/>
<text x="1168.1" y="948.9" font-size="29" text-anchor="end" textLength="15.11" lengthAdjust="spacingAndGlyphs">0</text>
<line x1="1187.1" y1="874.17" x2="1196.3" y2="874.17" stroke-width="3.2"/>
<text x="1168.1" y="883.77" font-size="29" text-anchor="end" textLength="15.11" lengthAdjust="spacingAndGlyphs">1</text>
<line x1="1187.1" y1="809.05" x2="1196.3" y2="809.05" stroke-width="3.2"/>
<text x="1168.1" y="818.65" font-size="29" text-anchor="end" textLength="15.11" lengthAdjust="spacingAndGlyphs">2</text>
<line x1="1187.1" y1="743.92" x2="1196.3" y2="743.92" stroke-width="3.2"/>
<text x="1168.1" y="753.52" font-size="29" text-anchor="end" textLength="15.11" lengthAdjust="spacingAndGlyphs">3</text>
<line x1="1187.1" y1="678.8" x2="1196.3" y2="678.8" stroke-width="3.2"/>
<text x="1168.1" y="688.4" font-size="29" text-anchor="end" textLength="15.11" lengthAdjust="spacingAndGlyphs">4</text>
<line x1="1225.5" y1="693.8" x2="1322" y2="693.8" stroke-width="3.4"/>
<line x1="1332" y1="693.8" x2="1370.5" y2="693.8" stroke-width="3.4"/>
<text x="1278.3" y="693.1" font-size="26.5" text-anchor="middle" stroke="#000" stroke-width="0.5" style="font-family:'DejaVu Sans','Liberation Sans',sans-serif">*</text>
<text x="1350" y="693.1" font-size="26.5" text-anchor="middle" stroke="#000" stroke-width="0.5" style="font-family:'DejaVu Sans','Liberation Sans',sans-serif">*</text>
<text x="1213.5" y="980.3" font-size="31" textLength="77.9" lengthAdjust="spacingAndGlyphs">Sham</text>
<text x="1314.8" y="980.3" font-size="31" textLength="61.3" lengthAdjust="spacingAndGlyphs">WHI</text>
<text transform="translate(1082 945.8) rotate(-90)" font-size="31" textLength="252.1" lengthAdjust="spacingAndGlyphs">Caspase-3 activity</text>
<text transform="translate(1123 930.1) rotate(-90)" font-size="31" textLength="217.8" lengthAdjust="spacingAndGlyphs">(fold of control)</text>
<line x1="1584.55" y1="876.1" x2="1584.55" y2="879" stroke-width="3.2"/>
<line x1="1576.75" y1="876.1" x2="1592.35" y2="876.1" stroke-width="3.2"/>
<rect x="1574.8" y="878.5" width="19.5" height="65.8" fill="#b2b2b2" stroke="#000" stroke-width="3" stroke-linejoin="round"/>
<line x1="1614.05" y1="879.1" x2="1614.05" y2="881" stroke-width="3.2"/>
<line x1="1606.25" y1="879.1" x2="1621.85" y2="879.1" stroke-width="3.2"/>
<rect x="1604.3" y="880.5" width="19.5" height="63.8" fill="#000" stroke="#000" stroke-width="3" stroke-linejoin="round"/>
<line x1="1673.45" y1="701.6" x2="1673.45" y2="722.3" stroke-width="3.2"/>
<line x1="1665.65" y1="701.6" x2="1681.25" y2="701.6" stroke-width="3.2"/>
<rect x="1663.8" y="721.8" width="19.3" height="222.5" fill="#b2b2b2" stroke="#000" stroke-width="3" stroke-linejoin="round"/>
<line x1="1703.3" y1="832.6" x2="1703.3" y2="838" stroke-width="3.2"/>
<line x1="1695.5" y1="832.6" x2="1711.1" y2="832.6" stroke-width="3.2"/>
<rect x="1693.3" y="837.5" width="20" height="106.8" fill="#000" stroke="#000" stroke-width="3" stroke-linejoin="round"/>
<line x1="1554" y1="682.4" x2="1554" y2="945.9" stroke-width="3"/>
<line x1="1544.5" y1="944.3" x2="1732.8" y2="944.3" stroke-width="3.4"/>
<text x="1525.8" y="953.9" font-size="29" text-anchor="end" textLength="15.11" lengthAdjust="spacingAndGlyphs">0</text>
<line x1="1544.8" y1="879.22" x2="1554" y2="879.22" stroke-width="3.2"/>
<text x="1525.8" y="888.82" font-size="29" text-anchor="end" textLength="15.11" lengthAdjust="spacingAndGlyphs">1</text>
<line x1="1544.8" y1="814.15" x2="1554" y2="814.15" stroke-width="3.2"/>
<text x="1525.8" y="823.75" font-size="29" text-anchor="end" textLength="15.11" lengthAdjust="spacingAndGlyphs">2</text>
<line x1="1544.8" y1="749.08" x2="1554" y2="749.08" stroke-width="3.2"/>
<text x="1525.8" y="758.68" font-size="29" text-anchor="end" textLength="15.11" lengthAdjust="spacingAndGlyphs">3</text>
<line x1="1544.8" y1="684" x2="1554" y2="684" stroke-width="3.2"/>
<text x="1525.8" y="693.6" font-size="29" text-anchor="end" textLength="15.11" lengthAdjust="spacingAndGlyphs">4</text>
<line x1="1571" y1="693.8" x2="1667" y2="693.8" stroke-width="3.4"/>
<line x1="1676.5" y1="693.8" x2="1715.3" y2="693.8" stroke-width="3.4"/>
<text x="1623.5" y="693.1" font-size="26.5" text-anchor="middle" stroke="#000" stroke-width="0.5" style="font-family:'DejaVu Sans','Liberation Sans',sans-serif">*</text>
<text x="1695.3" y="693.1" font-size="26.5" text-anchor="middle" stroke="#000" stroke-width="0.5" style="font-family:'DejaVu Sans','Liberation Sans',sans-serif">*</text>
<text x="1551.3" y="980.3" font-size="31" textLength="78.6" lengthAdjust="spacingAndGlyphs">Sham</text>
<text x="1652.5" y="980.3" font-size="31" textLength="61.4" lengthAdjust="spacingAndGlyphs">WHI</text>
<text transform="translate(1441.2 972.1) rotate(-90)" font-size="31" textLength="281.5" lengthAdjust="spacingAndGlyphs">Caspase-3/7 activity</text>
<text transform="translate(1482 940.6) rotate(-90)" font-size="31" textLength="217.5" lengthAdjust="spacingAndGlyphs">(fold of control)</text>
<line x1="958.25" y1="1154.9" x2="958.25" y2="1162.3" stroke-width="3.2"/>
<line x1="950.45" y1="1154.9" x2="966.05" y2="1154.9" stroke-width="3.2"/>
<rect x="948.5" y="1161.8" width="19.5" height="171.5" fill="#b2b2b2" stroke="#000" stroke-width="3" stroke-linejoin="round"/>
<line x1="988.25" y1="1156.1" x2="988.25" y2="1163.8" stroke-width="3.2"/>
<line x1="980.45" y1="1156.1" x2="996.05" y2="1156.1" stroke-width="3.2"/>
<rect x="978.5" y="1163.3" width="19.5" height="170" fill="#000" stroke="#000" stroke-width="3" stroke-linejoin="round"/>
<line x1="1048.25" y1="1252.4" x2="1048.25" y2="1263.8" stroke-width="3.2"/>
<line x1="1040.45" y1="1252.4" x2="1056.05" y2="1252.4" stroke-width="3.2"/>
<rect x="1038.5" y="1263.3" width="19.5" height="70" fill="#b2b2b2" stroke="#000" stroke-width="3" stroke-linejoin="round"/>
<line x1="1078.05" y1="1188.6" x2="1078.05" y2="1198" stroke-width="3.2"/>
<line x1="1070.25" y1="1188.6" x2="1085.85" y2="1188.6" stroke-width="3.2"/>
<rect x="1068.3" y="1197.5" width="19.5" height="135.8" fill="#000" stroke="#000" stroke-width="3" stroke-linejoin="round"/>
<line x1="929" y1="1075.4" x2="929" y2="1334.9" stroke-width="3"/>
<line x1="919.3" y1="1333.3" x2="1108.3" y2="1333.3" stroke-width="3.4"/>
<text x="900.8" y="1342.9" font-size="29" text-anchor="end" textLength="15.11" lengthAdjust="spacingAndGlyphs">0</text>
<line x1="919.8" y1="1247.87" x2="929" y2="1247.87" stroke-width="3.2"/>
<text x="900.8" y="1257.47" font-size="29" text-anchor="end" textLength="37.73" lengthAdjust="spacingAndGlyphs">0.5</text>
<line x1="919.8" y1="1162.43" x2="929" y2="1162.43" stroke-width="3.2"/>
<text x="900.8" y="1172.03" font-size="29" text-anchor="end" textLength="15.11" lengthAdjust="spacingAndGlyphs">1</text>
<line x1="919.8" y1="1077" x2="929" y2="1077" stroke-width="3.2"/>
<text x="900.8" y="1086.6" font-size="29" text-anchor="end" textLength="37.73" lengthAdjust="spacingAndGlyphs">1.5</text>
<line x1="951.8" y1="1113.3" x2="1048" y2="1113.3" stroke-width="3.4"/>
<line x1="1057.5" y1="1113.3" x2="1096.3" y2="1113.3" stroke-width="3.4"/>
<text x="1004.3" y="1112.8" font-size="26.5" text-anchor="middle" stroke="#000" stroke-width="0.5" style="font-family:'DejaVu Sans','Liberation Sans',sans-serif">*</text>
<text x="1075.8" y="1112.8" font-size="26.5" text-anchor="middle" stroke="#000" stroke-width="0.5" style="font-family:'DejaVu Sans','Liberation Sans',sans-serif">*</text>
<text x="939" y="1372" font-size="31" textLength="77.6" lengthAdjust="spacingAndGlyphs">Sham</text>
<text x="1040.5" y="1372" font-size="31" textLength="61.1" lengthAdjust="spacingAndGlyphs">WHI</text>
<text transform="translate(811.6 1309.2) rotate(-90)" font-size="31" textLength="184.6" lengthAdjust="spacingAndGlyphs">NRF2/β-actin</text>
<text transform="translate(852.4 1326.6) rotate(-90)" font-size="31" textLength="217" lengthAdjust="spacingAndGlyphs">(fold of control)</text>
<line x1="1382.8" y1="1138.1" x2="1382.8" y2="1155" stroke-width="3.2"/>
<line x1="1375" y1="1138.1" x2="1390.6" y2="1138.1" stroke-width="3.2"/>
<rect x="1372.8" y="1154.5" width="20" height="171.3" fill="#b2b2b2" stroke="#000" stroke-width="3" stroke-linejoin="round"/>
<line x1="1412.55" y1="1153.6" x2="1412.55" y2="1160.5" stroke-width="3.2"/>
<line x1="1404.75" y1="1153.6" x2="1420.35" y2="1153.6" stroke-width="3.2"/>
<rect x="1402.8" y="1160" width="19.5" height="165.8" fill="#000" stroke="#000" stroke-width="3" stroke-linejoin="round"/>
<line x1="1472.05" y1="1248.1" x2="1472.05" y2="1258.8" stroke-width="3.2"/>
<line x1="1464.25" y1="1248.1" x2="1479.85" y2="1248.1" stroke-width="3.2"/>
<rect x="1462.3" y="1258.3" width="19.5" height="67.5" fill="#b2b2b2" stroke="#000" stroke-width="3" stroke-linejoin="round"/>
<line x1="1501.9" y1="1180.6" x2="1501.9" y2="1188" stroke-width="3.2"/>
<line x1="1494.1" y1="1180.6" x2="1509.7" y2="1180.6" stroke-width="3.2"/>
<rect x="1492" y="1187.5" width="19.8" height="138.3" fill="#000" stroke="#000" stroke-width="3" stroke-linejoin="round"/>
<line x1="1352.6" y1="1067.9" x2="1352.6" y2="1327.4" stroke-width="3"/>
<line x1="1343" y1="1325.8" x2="1531.8" y2="1325.8" stroke-width="3.4"/>
<text x="1324.4" y="1335.4" font-size="29" text-anchor="end" textLength="15.11" lengthAdjust="spacingAndGlyphs">0</text>
<line x1="1343.4" y1="1240.37" x2="1352.6" y2="1240.37" stroke-width="3.2"/>
<text x="1324.4" y="1249.97" font-size="29" text-anchor="end" textLength="37.73" lengthAdjust="spacingAndGlyphs">0.5</text>
<line x1="1343.4" y1="1154.93" x2="1352.6" y2="1154.93" stroke-width="3.2"/>
<text x="1324.4" y="1164.53" font-size="29" text-anchor="end" textLength="15.11" lengthAdjust="spacingAndGlyphs">1</text>
<line x1="1343.4" y1="1069.5" x2="1352.6" y2="1069.5" stroke-width="3.2"/>
<text x="1324.4" y="1079.1" font-size="29" text-anchor="end" textLength="37.73" lengthAdjust="spacingAndGlyphs">1.5</text>
<line x1="1371.8" y1="1113.3" x2="1468" y2="1113.3" stroke-width="3.4"/>
<line x1="1478.8" y1="1113.3" x2="1517" y2="1113.3" stroke-width="3.4"/>
<text x="1424.3" y="1112.8" font-size="26.5" text-anchor="middle" stroke="#000" stroke-width="0.5" style="font-family:'DejaVu Sans','Liberation Sans',sans-serif">*</text>
<text x="1496.3" y="1112.8" font-size="26.5" text-anchor="middle" stroke="#000" stroke-width="0.5" style="font-family:'DejaVu Sans','Liberation Sans',sans-serif">*</text>
<text x="1358" y="1372" font-size="31" textLength="77.9" lengthAdjust="spacingAndGlyphs">Sham</text>
<text x="1459.8" y="1372" font-size="31" textLength="60.8" lengthAdjust="spacingAndGlyphs">WHI</text>
<text transform="translate(1231.6 1308.3) rotate(-90)" font-size="31" textLength="182.8" lengthAdjust="spacingAndGlyphs">HO-1/β-actin</text>
<text transform="translate(1272.4 1326.6) rotate(-90)" font-size="31" textLength="217" lengthAdjust="spacingAndGlyphs">(fold of control)</text>
<rect x="1603.8" y="1129.7" width="38.7" height="22.1" fill="#b2b2b2" stroke="#000" stroke-width="3"/>
<rect x="1602.3" y="1230" width="41.7" height="25.4" fill="#000" stroke="none"/>
<text x="1652.1" y="1152.2" font-size="31" textLength="55" lengthAdjust="spacingAndGlyphs">Con</text>
<text x="1656.9" y="1254" font-size="31" textLength="88.8" lengthAdjust="spacingAndGlyphs">mimic</text>
<text x="3.2" y="36.6" font-size="42.5" font-weight="bold">A</text>
<text x="732.3" y="36.4" font-size="42.5" font-weight="bold">B</text>
<text x="3" y="336.2" font-size="42.5" font-weight="bold">C</text>
<text x="732.3" y="336.4" font-size="42.5" font-weight="bold">D</text>
<text x="3.6" y="679.5" font-size="42.5" font-weight="bold">E</text>
<text x="1083.2" y="679.5" font-size="42.5" font-weight="bold">F</text>
<text x="111.2" y="1059.4" font-size="42.5" font-weight="bold">G</text>
<text x="782" y="1059.4" font-size="42.5" font-weight="bold">H</text>
<text x="288.5" y="1050.3" font-size="31" textLength="80.2" lengthAdjust="spacingAndGlyphs">Sham</text>
<text x="476" y="1050.3" font-size="31" textLength="62.6" lengthAdjust="spacingAndGlyphs">WHI</text>
<line x1="263" y1="1067.3" x2="398" y2="1067.3" stroke-width="3.4"/>
<line x1="445" y1="1067.3" x2="579.6" y2="1067.3" stroke-width="3.4"/>
<text transform="translate(302.3 1150.3) rotate(-90)" font-size="31" textLength="55.9" lengthAdjust="spacingAndGlyphs">Con</text>
<text transform="translate(384.4 1165.4) rotate(-90)" font-size="31" textLength="89.9" lengthAdjust="spacingAndGlyphs">mimic</text>
<text transform="translate(471.4 1150.3) rotate(-90)" font-size="31" textLength="55.9" lengthAdjust="spacingAndGlyphs">Con</text>
<text transform="translate(553.9 1165.4) rotate(-90)" font-size="31" textLength="89.9" lengthAdjust="spacingAndGlyphs">mimic</text>
<text x="169.5" y="1213" font-size="31" textLength="74.4" lengthAdjust="spacingAndGlyphs">NRF2</text>
<text x="171.1" y="1294" font-size="31" textLength="72.8" lengthAdjust="spacingAndGlyphs">HO-1</text>
<text x="145.8" y="1362.3" font-size="31" textLength="98.1" lengthAdjust="spacingAndGlyphs">β-actin</text>
<text x="611" y="1213" font-size="31" textLength="113.3" lengthAdjust="spacingAndGlyphs">100 kDa</text>
<text x="611" y="1294" font-size="31" textLength="96.1" lengthAdjust="spacingAndGlyphs">80 kDa</text>
<text x="611" y="1362.3" font-size="31" textLength="96.1" lengthAdjust="spacingAndGlyphs">42 kDa</text>
<defs><filter id="b3" x="-30%" y="-60%" width="160%" height="220%"><feGaussianBlur stdDeviation="3.4 2.8"/></filter><filter id="b4" x="-30%" y="-60%" width="160%" height="220%"><feGaussianBlur stdDeviation="4.5 3.6"/></filter><filter id="b7" x="-40%" y="-100%" width="180%" height="300%"><feGaussianBlur stdDeviation="8 6"/></filter><linearGradient id="bg" x1="0" x2="1" y1="0" y2="0"><stop offset="0" stop-color="#c4c4c4"/><stop offset="0.07" stop-color="#adadad"/><stop offset="0.93" stop-color="#adadad"/><stop offset="1" stop-color="#c0c0c0"/></linearGradient><linearGradient id="bg3" x1="0" x2="1" y1="0" y2="0"><stop offset="0" stop-color="#dcdcdc"/><stop offset="0.08" stop-color="#c4c4c4"/><stop offset="0.92" stop-color="#c4c4c4"/><stop offset="1" stop-color="#dcdcdc"/></linearGradient></defs>
<clipPath id="cp0"><rect x="254.8" y="1179.5" width="343" height="57.9"/></clipPath>
<rect x="254.8" y="1179.5" width="343" height="57.9" fill="url(#bg)"/>
<g clip-path="url(#cp0)">
<rect x="277" y="1192.9" width="70" height="32.7" rx="13" fill="#000" opacity="0.55" filter="url(#b7)"/>
<rect x="280" y="1195" width="64" height="28.5" rx="13" fill="#000" opacity="1" filter="url(#b3)"/>
<rect x="284" y="1198" width="56" height="22.5" rx="11.25" fill="#000" opacity="0.9" filter="url(#b3)"/>
<rect x="354" y="1194.9" width="74" height="30.7" rx="13" fill="#000" opacity="0.55" filter="url(#b7)"/>
<rect x="357" y="1197" width="68" height="26.5" rx="13" fill="#000" opacity="1" filter="url(#b3)"/>
<rect x="361" y="1200" width="60" height="20.5" rx="10.25" fill="#000" opacity="0.9" filter="url(#b3)"/>
<rect x="435" y="1200.9" width="62" height="19.2" rx="9.6" fill="#000" opacity="0.22" filter="url(#b7)"/>
<rect x="438" y="1203" width="56" height="15" rx="7.5" fill="#000" opacity="0.3" filter="url(#b4)"/>
<rect x="442" y="1206" width="48" height="9" rx="4.5" fill="#000" opacity="0.12" filter="url(#b4)"/>
<rect x="506" y="1190.4" width="79" height="40.7" rx="13" fill="#000" opacity="0.6" filter="url(#b7)"/>
<rect x="509" y="1192.5" width="73" height="36.5" rx="13" fill="#000" opacity="1" filter="url(#b3)"/>
<rect x="513" y="1195.5" width="65" height="30.5" rx="13" fill="#000" opacity="0.9" filter="url(#b3)"/>
</g>
<rect x="256.3" y="1181" width="340" height="54.9" fill="none" stroke="#000" stroke-width="3"/>
<clipPath id="cp1"><rect x="254.8" y="1251.4" width="343" height="57.4"/></clipPath>
<rect x="254.8" y="1251.4" width="343" height="57.4" fill="url(#bg)"/>
<g clip-path="url(#cp1)">
<rect x="286" y="1262.9" width="66" height="29.2" rx="13" fill="#000" opacity="0.4" filter="url(#b7)" transform="rotate(3 319 1277.5)"/>
<rect x="289" y="1265" width="60" height="25" rx="12.5" fill="#000" opacity="0.7" filter="url(#b4)" transform="rotate(3 319 1277.5)"/>
<rect x="293" y="1268" width="52" height="19" rx="9.5" fill="#000" opacity="0.55" filter="url(#b4)" transform="rotate(3 319 1277.5)"/>
<rect x="361" y="1265.9" width="67" height="28.2" rx="13" fill="#000" opacity="0.4" filter="url(#b7)" transform="rotate(3 394.5 1280)"/>
<rect x="364" y="1268" width="61" height="24" rx="12" fill="#000" opacity="0.65" filter="url(#b4)" transform="rotate(3 394.5 1280)"/>
<rect x="368" y="1271" width="53" height="18" rx="9" fill="#000" opacity="0.45" filter="url(#b4)" transform="rotate(3 394.5 1280)"/>
<rect x="434" y="1273.9" width="68" height="22.2" rx="11.1" fill="#000" opacity="0.3" filter="url(#b7)"/>
<rect x="437" y="1276" width="62" height="18" rx="9" fill="#000" opacity="0.42" filter="url(#b4)"/>
<rect x="441" y="1279" width="54" height="12" rx="6" fill="#000" opacity="0.2" filter="url(#b4)"/>
<rect x="509" y="1264.9" width="56" height="35.2" rx="13" fill="#000" opacity="0.5" filter="url(#b7)"/>
<rect x="512" y="1267" width="50" height="31" rx="13" fill="#000" opacity="0.9" filter="url(#b4)"/>
<rect x="516" y="1270" width="42" height="25" rx="12.5" fill="#000" opacity="0.8" filter="url(#b4)"/>
<rect x="545" y="1272.9" width="44" height="23.2" rx="11.6" fill="#000" opacity="0.3" filter="url(#b7)" transform="rotate(2 567 1284.5)"/>
<rect x="548" y="1275" width="38" height="19" rx="9.5" fill="#000" opacity="0.55" filter="url(#b4)" transform="rotate(2 567 1284.5)"/>
<rect x="552" y="1278" width="30" height="13" rx="6.5" fill="#000" opacity="0.3" filter="url(#b4)" transform="rotate(2 567 1284.5)"/>
</g>
<rect x="256.3" y="1252.9" width="340" height="54.4" fill="none" stroke="#000" stroke-width="3"/>
<clipPath id="cp2"><rect x="254.8" y="1324.8" width="343" height="54"/></clipPath>
<rect x="254.8" y="1324.8" width="343" height="54" fill="url(#bg3)"/>
<g clip-path="url(#cp2)">
<rect x="265" y="1332.9" width="80" height="26.2" rx="13" fill="#000" opacity="0.3" filter="url(#b7)" transform="rotate(6 305 1346)"/>
<rect x="268" y="1335" width="74" height="22" rx="11" fill="#000" opacity="0.45" filter="url(#b4)" transform="rotate(6 305 1346)"/>
<rect x="272" y="1338" width="66" height="16" rx="8" fill="#000" opacity="0.25" filter="url(#b4)" transform="rotate(6 305 1346)"/>
<rect x="344" y="1339.9" width="80" height="27.7" rx="13" fill="#000" opacity="0.32" filter="url(#b7)"/>
<rect x="347" y="1342" width="74" height="23.5" rx="11.75" fill="#000" opacity="0.6" filter="url(#b4)"/>
<rect x="351" y="1345" width="66" height="17.5" rx="8.75" fill="#000" opacity="0.45" filter="url(#b4)"/>
<rect x="429" y="1339.9" width="75" height="27.7" rx="13" fill="#000" opacity="0.32" filter="url(#b7)" transform="rotate(2 466.5 1353.75)"/>
<rect x="432" y="1342" width="69" height="23.5" rx="11.75" fill="#000" opacity="0.62" filter="url(#b4)" transform="rotate(2 466.5 1353.75)"/>
<rect x="436" y="1345" width="61" height="17.5" rx="8.75" fill="#000" opacity="0.45" filter="url(#b4)" transform="rotate(2 466.5 1353.75)"/>
<rect x="505" y="1338.9" width="82" height="29.2" rx="13" fill="#000" opacity="0.4" filter="url(#b7)"/>
<rect x="508" y="1341" width="76" height="25" rx="12.5" fill="#000" opacity="0.7" filter="url(#b4)"/>
<rect x="512" y="1344" width="68" height="19" rx="9.5" fill="#000" opacity="0.55" filter="url(#b4)"/>
</g>
<rect x="256.3" y="1326.3" width="340" height="51" fill="none" stroke="#000" stroke-width="3"/>
</svg>
</body></html>
